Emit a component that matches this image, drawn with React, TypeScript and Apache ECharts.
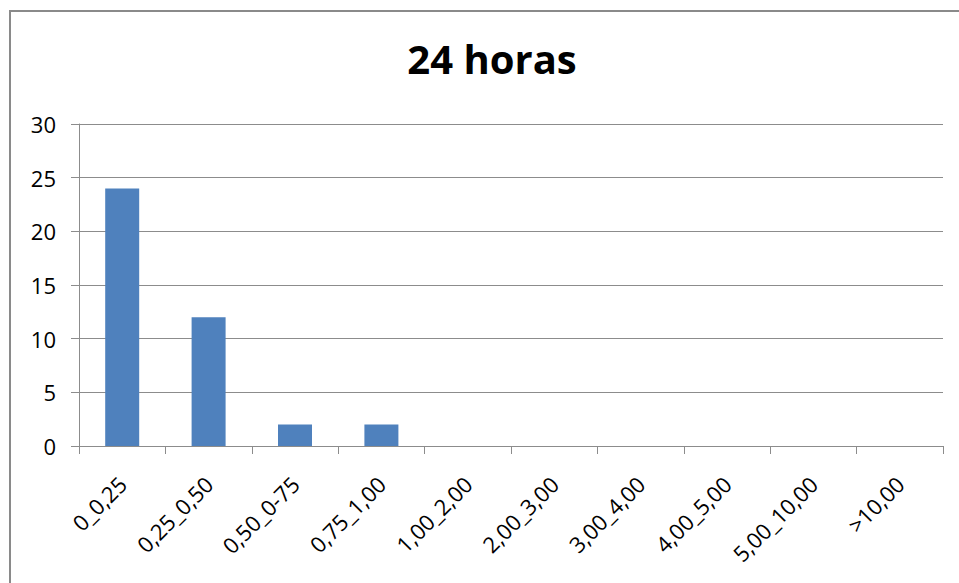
import React, { useEffect, useRef } from "react";
import * as echarts from "echarts";

const title = "24 horas";
const categories = ["0_0,25", "0,25_0,50", "0,50_0-75", "0,75_1,00", "1,00_2,00", "2,00_3,00", "3,00_4,00", "4,00_5,00", "5,00_10,00", ">10,00"];
const values = [24, 12, 2, 2, 0, 0, 0, 0, 0, 0];
const yMin = 0;
const yMax = 30;
const yInterval = 5;

export default function App() {
  const ref = useRef<HTMLDivElement>(null);
  useEffect(() => {
    if (!ref.current) return;
    const chart = echarts.init(ref.current, null, { renderer: "svg" });
    const font = "'Open Sans', 'Liberation Sans', sans-serif";
    chart.setOption({
      animation: false,
      backgroundColor: "#fff",
      title: {
        text: title,
        left: 487,
        textAlign: "center",
        top: 33,
        textStyle: { fontFamily: font, fontWeight: "bold", fontSize: 40, color: "#000" },
      },
      graphic: [
        {
          type: "rect",
          shape: { x: 10, y: 11, width: 1000, height: 700 },
          style: { fill: "none", stroke: "#8a8a8a", lineWidth: 2 },
          silent: true,
        },
      ],
      grid: { left: 79, right: 16, top: 124, bottom: 137, containLabel: false },
      xAxis: {
        type: "category",
        data: categories,
        boundaryGap: true,
        axisLine: { lineStyle: { color: "#8c8c8c", width: 1 } },
        axisTick: { show: true, length: 8, lineStyle: { color: "#8c8c8c" } },
        axisLabel: {
          rotate: 45,
          margin: 34,
          interval: 0,
          color: "#000",
          fontFamily: font,
          fontSize: 22,
        },
        splitLine: { show: false },
      },
      yAxis: {
        type: "value",
        min: yMin,
        max: yMax,
        interval: yInterval,
        axisLine: { show: true, lineStyle: { color: "#8c8c8c", width: 1 } },
        axisTick: { show: true, inside: false, length: 8, lineStyle: { color: "#8c8c8c" } },
        axisLabel: { margin: 23, color: "#000", fontFamily: font, fontSize: 22 },
        splitLine: { show: true, lineStyle: { color: "#8c8c8c", width: 1 } },
      },
      series: [
        {
          type: "bar",
          data: values,
          barWidth: 34,
          itemStyle: { color: "#4F81BD" },
        },
      ],
    });
    return () => chart.dispose();
  }, []);
  return <div ref={ref} style={{ width: 959, height: 583, position: "absolute", left: 0, top: 0 }} />;
}
